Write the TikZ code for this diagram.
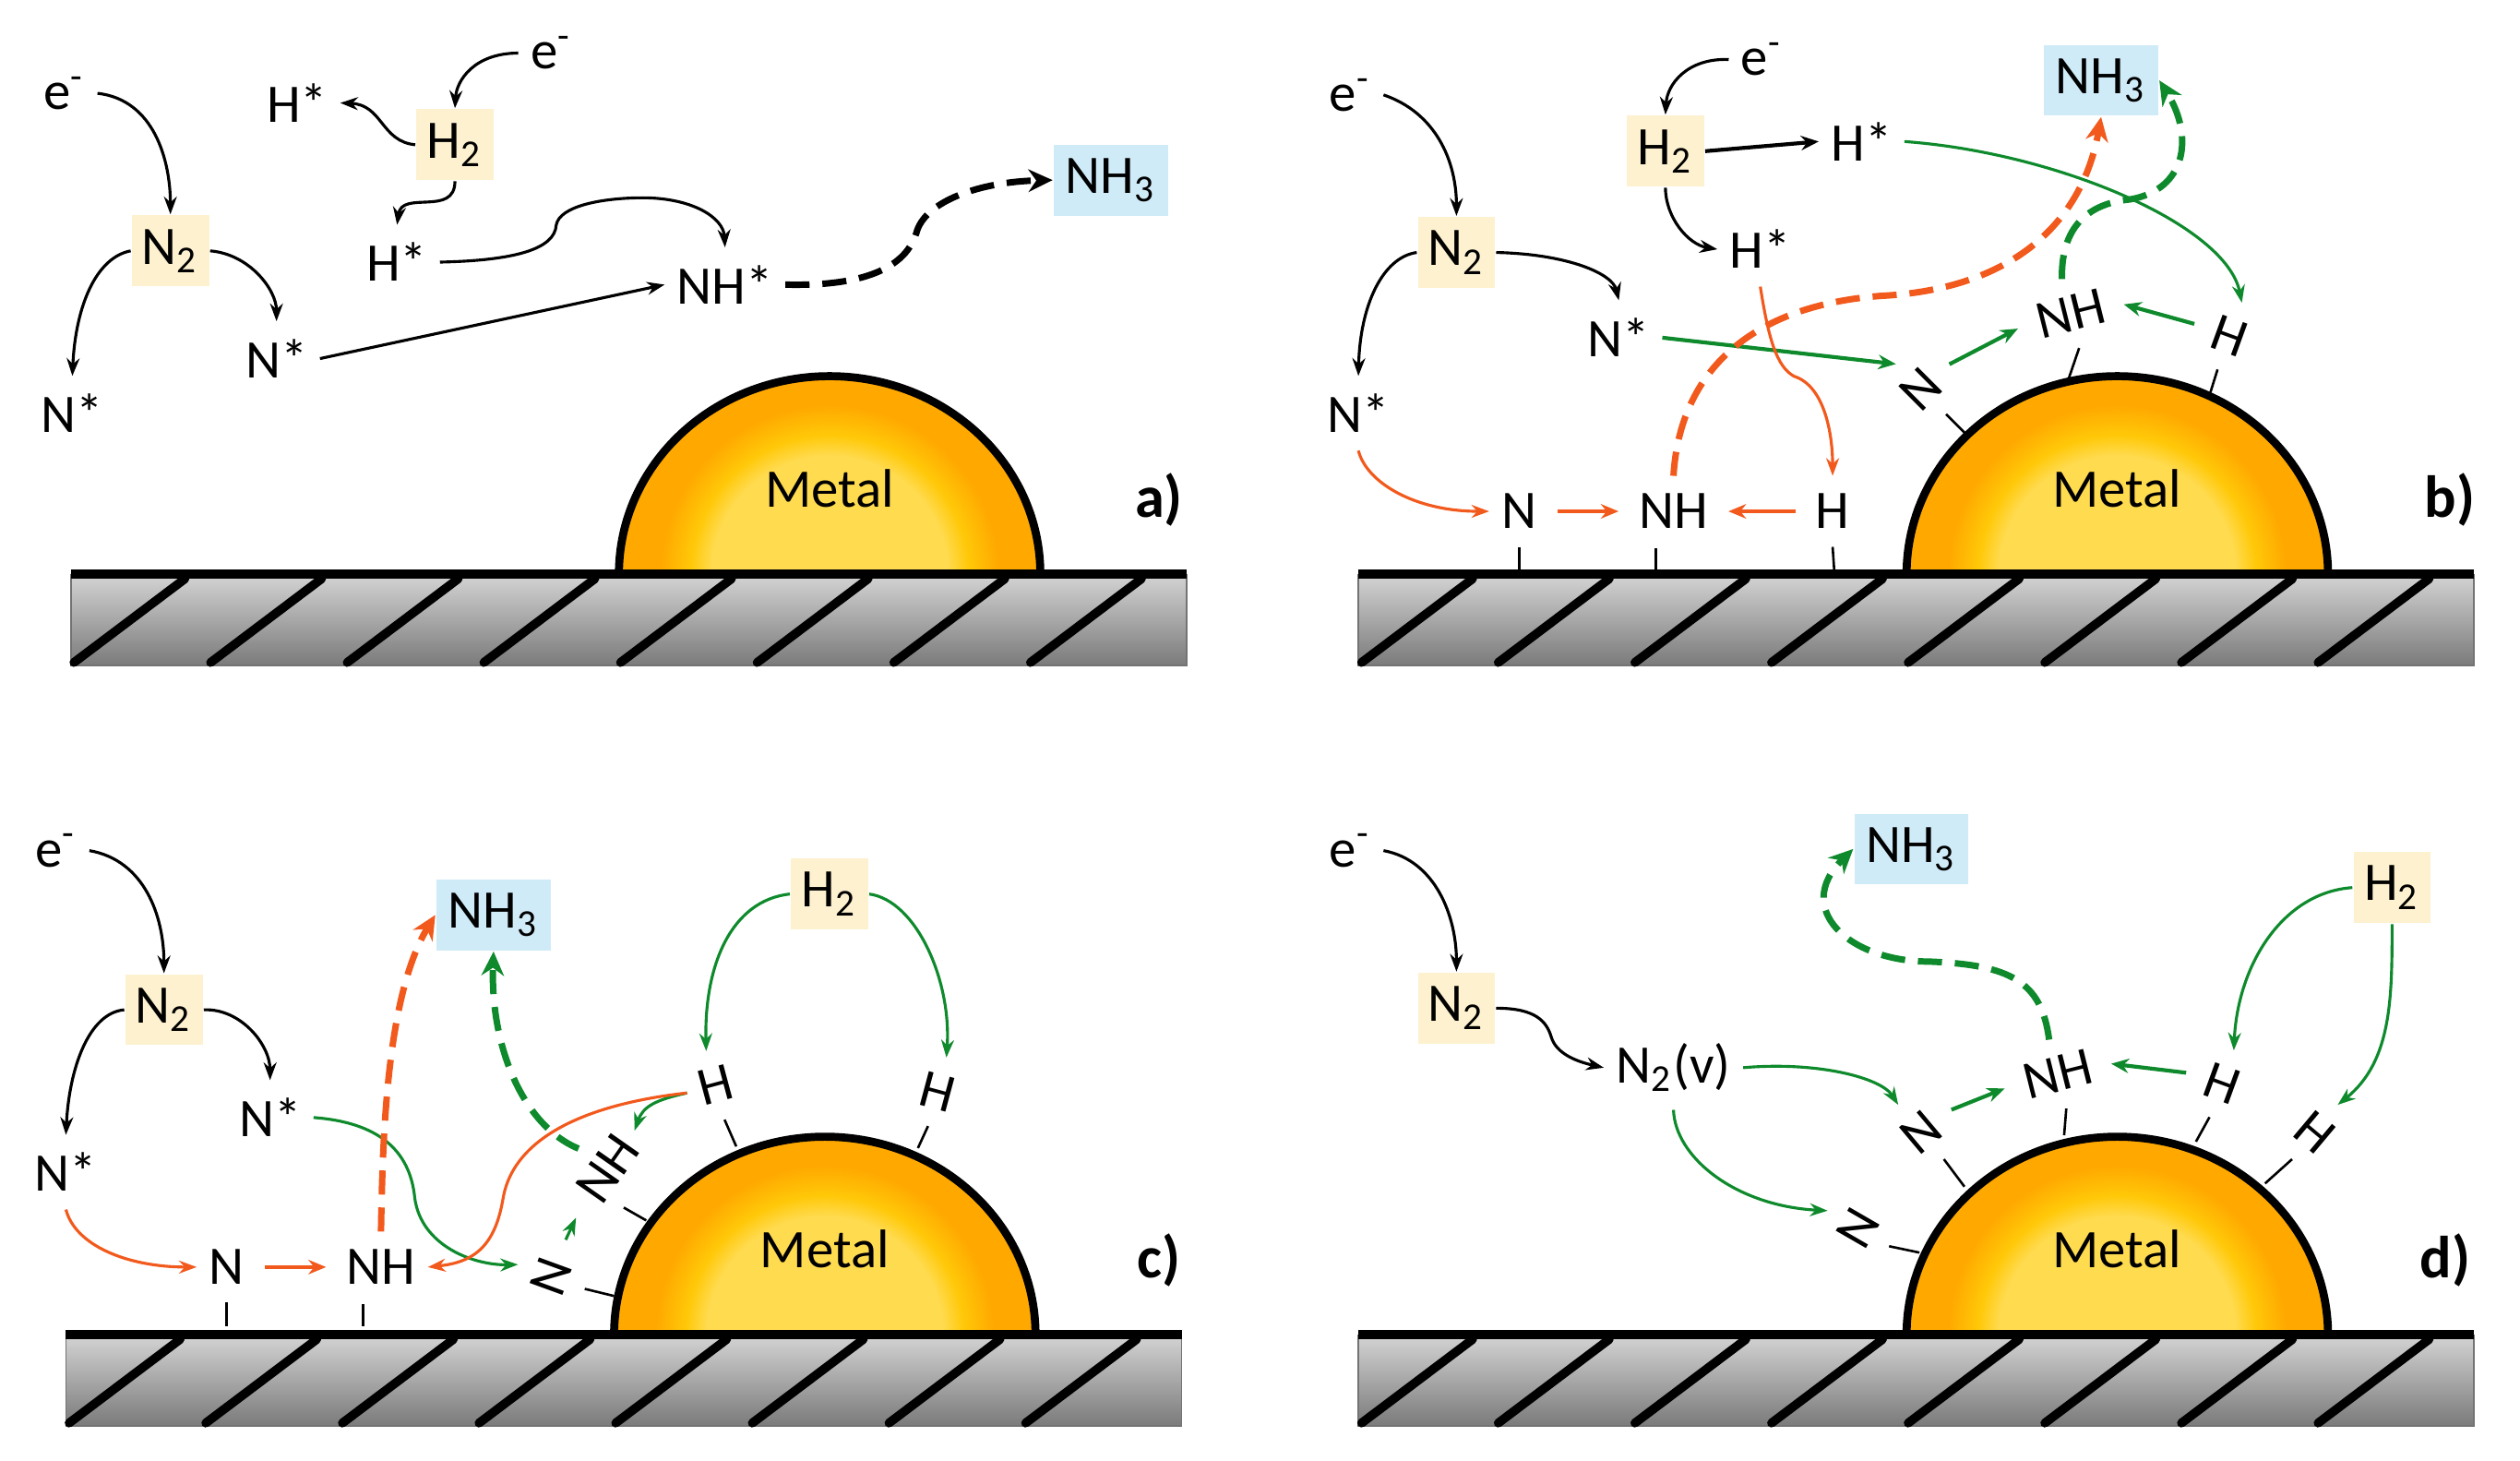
\documentclass[tikz,border=0pt]{standalone}
\usepackage{fontspec}
\setmainfont{Carlito}
\usetikzlibrary{arrows.meta}
\definecolor{gasfill}{HTML}{FDF1CF}
\definecolor{prodfill}{HTML}{D0EBF8}
\definecolor{orangeflow}{HTML}{F2591C}
\definecolor{greenflow}{HTML}{0E8A2C}
\definecolor{metalcore}{HTML}{FFDB50}
\definecolor{metalmid}{HTML}{FFC808}
\definecolor{metalrim}{HTML}{FFA900}
\pgfdeclareradialshading{metalglow}{\pgfpointorigin}{color(0bp)=(metalcore);color(14bp)=(metalcore);color(16.5bp)=(metalmid);color(20bp)=(metalrim);color(50bp)=(metalrim)}
\tikzset{
  txt/.style={inner xsep=2pt,inner ysep=3pt,font=\fontsize{9.6}{11}\selectfont},
  gas/.style={txt,inner sep=0pt,fill=gasfill,minimum width=0.48cm,minimum height=0.44cm},
  prod/.style={txt,inner sep=0pt,fill=prodfill,minimum width=0.71cm,minimum height=0.44cm},
  tag/.style={inner sep=0pt,font=\fontsize{10.5}{12}\selectfont\bfseries},
  bond/.style={line width=0.015cm},
  flow/.style={line width=0.018cm,-{Stealth[length=0.11cm,width=0.08cm]}},
  hop/.style={line width=0.024cm,-{Stealth[length=0.11cm,width=0.09cm]}},
  shorthop/.style={hop,shorten <=0.05cm,shorten >=0.05cm},
  flux/.style={line width=0.04cm,dash pattern=on 0.15cm off 0.08cm,-{Stealth[length=0.15cm,width=0.14cm]}}
}
% substrate with the metal particle: left end, top line, panel prefix
\newcommand{\support}[3]{
\begin{scope}[shift={(#1,#2)}]
\shade[top color=black!17,middle color=black!33,bottom color=black!52] (0,0) rectangle (694,57);
\draw[black!55,line width=0.01cm] (0,0)--(0,57)--(694,57)--(694,0);
\foreach \i in {0,...,7}
  \draw[line width=0.055cm,line cap=round] (2+85*\i,55)--(71+85*\i,3);
\begin{scope}
\clip (341,0) arc[start angle=180,end angle=0,x radius=1.31cm,y radius=1.23cm] -- cycle;
\shade[shading=metalglow] (472,0) circle[radius=1.31cm];
\end{scope}
\draw[line width=0.05cm] (341,0) arc[start angle=180,end angle=0,x radius=1.31cm,y radius=1.23cm];
\draw[line width=0.055cm] (0,0)--(694,0);
\node[txt] (#3M) at (472,-53) {Metal};
\end{scope}
}
\begin{document}
\begin{tikzpicture}[x=0.01cm,y=-0.01cm]
\useasboundingbox (0,0) rectangle (1567.6,908.1);

\support{44}{357}{a}
\support{845}{357}{b}
\support{41}{830}{c}
\support{845}{830}{d}

% a)
\node[tag] (aT) at (721,311) {a)};
\node[txt] (aE) at (40,58) {e\textsuperscript{-}};
\node[gas] (aN) at (106,156) {N\textsubscript{2}};
\node[txt] (aNl) at (45,257) {N*};
\node[txt] (aNr) at (172,223) {N*};
\node[txt] (aEh) at (343,33) {e\textsuperscript{-}};
\node[gas] (aH) at (283,90) {H\textsubscript{2}};
\node[txt] (aHu) at (185,64) {H*};
\node[txt] (aHd) at (247,163) {H*};
\node[txt] (aNH) at (451,177) {NH*};
\node[prod] (aP) at (691,112) {NH\textsubscript{3}};
\draw[flow] (aE.east) .. controls (96,62) and (106,100) .. (aN.north);
\draw[flow] (aN.west) .. controls (60,160) and (47,190) .. (aNl.north);
\draw[flow] (aN.east) .. controls (155,158) and (172,180) .. (aNr.north);
\draw[flow] (aEh.west) .. controls (295,33) and (284,50) .. (aH.north);
\draw[flow] (aH.west) .. controls (237,88) and (238,65) .. (aHu.east);
\draw[flow] (aH.south) .. controls (283,135) and (250,118) .. (aHd.north);
\draw[flow] (aHd.east) .. controls (320,162) and (345,155) .. (346,140) .. controls (348,128) and (375,123) .. (400,123) .. controls (430,123) and (450,135) .. (aNH.north);
\draw[flow] (aNr.east) -- (aNH.west);
\draw[flux] (aNH.east) .. controls (530,178) and (562,170) .. (570,145) .. controls (575,125) and (610,113) .. (aP.west);

% b)
\node[tag] (bT) at (1524,311) {b)};
\node[txt] (bE) at (840,59) {e\textsuperscript{-}};
\node[gas] (bN) at (906,157) {N\textsubscript{2}};
\node[txt] (bNl) at (845,257) {N*};
\node[txt] (bNr) at (1007,210) {N*};
\node[txt] (bEh) at (1096,37) {e\textsuperscript{-}};
\node[gas] (bH) at (1036,94) {H\textsubscript{2}};
\node[txt] (bHr) at (1158,88) {H*};
\node[txt] (bHd) at (1095,155) {H*};
\node[prod] (bP) at (1307,50) {NH\textsubscript{3}};
\node[txt] (bn) at (945,318) {N};
\node[txt] (bnh) at (1041,318) {NH};
\node[txt] (bh) at (1140,318) {H};
\node[txt,rotate=45] (bNm) at (1195,242) {N};
\node[txt,rotate=14] (bNHm) at (1288,195) {NH};
\node[txt,rotate=-20] (bHm) at (1387,209) {H};
\coordinate (bt2) at (1030,341);
\coordinate (bs1) at (945,355);
\coordinate (bs2) at (1030,355);
\coordinate (bs3) at (1141,355);
\coordinate (bs4) at (1222,269);
\coordinate (bs5) at (1287,235);
\coordinate (bs6) at (1375,244);
\draw[bond] (bn.south)--(bs1);
\draw[bond] (bt2)--(bs2);
\draw[bond] (bh.south)--(bs3);
\draw[bond] (bNm.south)--(bs4);
\draw[bond] (bNHm.south)--(bs5);
\draw[bond] (bHm.south)--(bs6);
\draw[flow] (bE.east) .. controls (893,70) and (906,100) .. (bN.north);
\draw[flow] (bN.west) .. controls (860,160) and (846,190) .. (bNl.north);
\draw[flow] (bN.east) .. controls (975,158) and (1003,170) .. (bNr.north);
\draw[flow] (bEh.west) .. controls (1050,36) and (1037,52) .. (bH.north);
\draw[hop] (bH.east) -- (bHr.west);
\draw[flow] (bH.south) .. controls (1036,135) and (1050,152) .. (bHd.west);
\draw[hop,greenflow] (bNr.east) -- (bNm.north);
\draw[shorthop,greenflow] (bNm.east) -- (bNHm.west);
\draw[shorthop,greenflow] (bHm.west) -- (bNHm.east);
\draw[flow,greenflow] (bHr.east) .. controls (1280,95) and (1385,140) .. (bHm.north);
\draw[flow,orangeflow] (bNl.south) .. controls (850,300) and (880,318) .. (bn.west);
\draw[shorthop,orangeflow] (bn.east) -- (bnh.west);
\draw[shorthop,orangeflow] (bh.west) -- (bnh.east);
\draw[flow,orangeflow] (bHd.south) .. controls (1100,210) and (1105,228) .. (1116,234) .. controls (1135,240) and (1140,270) .. (bh.north);
\draw[flux,orangeflow] (bnh.north) .. controls (1045,230) and (1090,190) .. (1170,184) .. controls (1250,180) and (1295,140) .. (bP.south);
\draw[flux,greenflow] (bNHm.north) .. controls (1282,145) and (1295,127) .. (1325,124) .. controls (1360,118) and (1365,85) .. (bP.east);

% c)
\node[tag] (cT) at (721,784) {c)};
\node[txt] (cE) at (35,529) {e\textsuperscript{-}};
\node[gas] (cN) at (102,628) {N\textsubscript{2}};
\node[txt] (cNl) at (41,729) {N*};
\node[txt] (cNr) at (168,695) {N*};
\node[prod] (cP) at (307,569) {NH\textsubscript{3}};
\node[gas] (cH) at (516,556) {H\textsubscript{2}};
\node[txt] (cn) at (141,788) {N};
\node[txt] (cnh) at (237,788) {NH};
\node[txt,rotate=70] (cNm) at (343,794) {N};
\node[txt,rotate=55] (cNHm) at (378,727) {NH};
\node[txt,rotate=15] (cHl) at (445,675) {H};
\node[txt,rotate=-15] (cHr) at (583,679) {H};
\coordinate (ct2) at (226,811);
\coordinate (ct4) at (388,751);
\coordinate (cs1) at (141,825);
\coordinate (cs2) at (226,825);
\coordinate (cs3) at (382,806);
\coordinate (cs4) at (402,759);
\coordinate (cs5) at (458,713);
\coordinate (cs6) at (571,714);
\draw[bond] (cn.south)--(cs1);
\draw[bond] (ct2)--(cs2);
\draw[bond] (cNm.south)--(cs3);
\draw[bond] (ct4)--(cs4);
\draw[bond] (cHl.south)--(cs5);
\draw[bond] (cHr.south)--(cs6);
\draw[flow] (cE.east) .. controls (90,535) and (102,570) .. (cN.north);
\draw[flow] (cN.west) .. controls (55,630) and (43,665) .. (cNl.north);
\draw[flow] (cN.east) .. controls (150,627) and (168,650) .. (cNr.north);
\draw[flow,orangeflow] (cNl.south) .. controls (47,775) and (80,788) .. (cn.west);
\draw[shorthop,orangeflow] (cn.east) -- (cnh.west);
\draw[flow,greenflow] (cNr.east) .. controls (235,698) and (255,715) .. (258,745) .. controls (262,775) and (295,787) .. (cNm.north);
\draw[flow,greenflow,shorten <=0.06cm,shorten >=0.07cm] (cNm.east) -- (cNHm.west);
\draw[flow,greenflow] (cHl.west) .. controls (408,684) and (400,688) .. (cNHm.east);
\draw[flow,orangeflow] (cHl.west) .. controls (370,686) and (320,705) .. (313,745) .. controls (308,775) and (295,785) .. (cnh.east);
\draw[flux,orangeflow] (cnh.north) .. controls (238,710) and (240,620) .. (cP.west);
\draw[flux,greenflow] (cNHm.north) .. controls (325,700) and (305,650) .. (cP.south);
\draw[flow,greenflow] (cH.west) .. controls (455,560) and (438,600) .. (cHl.north);
\draw[flow,greenflow] (cH.east) .. controls (570,560) and (592,610) .. (cHr.north);

% d)
\node[tag] (dT) at (1521,784) {d)};
\node[txt] (dE) at (840,529) {e\textsuperscript{-}};
\node[gas] (dN) at (906,627) {N\textsubscript{2}};
\node[txt] (dV) at (1041,664) {N\textsubscript{2}(v)};
\node[prod] (dP) at (1189,528) {NH\textsubscript{3}};
\node[gas] (dH) at (1488,552) {H\textsubscript{2}};
\node[txt,rotate=40] (dNu) at (1195,704) {N};
\node[txt,rotate=60] (dNd) at (1156,764) {N};
\node[txt,rotate=14] (dNHm) at (1280,668) {NH};
\node[txt,rotate=-20] (dHl) at (1382,674) {H};
\node[txt,rotate=-40] (dHr) at (1440,704) {H};
\coordinate (ds1) at (1222,738);
\coordinate (ds2) at (1194,779);
\coordinate (ds3) at (1284,706);
\coordinate (ds4) at (1366,710);
\coordinate (ds5) at (1409,736);
\draw[bond] (dNu.south)--(ds1);
\draw[bond] (dNd.south)--(ds2);
\draw[bond] (dNHm.south)--(ds3);
\draw[bond] (dHl.south)--(ds4);
\draw[bond] (dHr.south)--(ds5);
\draw[flow] (dE.east) .. controls (893,535) and (906,570) .. (dN.north);
\draw[flow] (dN.east) .. controls (955,627) and (962,635) .. (965,645) .. controls (968,655) and (980,660) .. (dV.west);
\draw[flow,greenflow] (dV.east) .. controls (1130,660) and (1170,670) .. (dNu.north);
\draw[flow,greenflow] (dV.south) .. controls (1042,720) and (1080,750) .. (dNd.north);
\draw[shorthop,greenflow] (dNu.east) -- (dNHm.west);
\draw[shorthop,greenflow] (dHl.west) -- (dNHm.east);
\draw[flow,greenflow] (dH.west) .. controls (1420,555) and (1392,600) .. (dHl.north);
\draw[flow,greenflow] (dH.south) .. controls (1488,620) and (1488,660) .. (dHr.north);
\draw[flux,greenflow] (dNHm.north) .. controls (1270,610) and (1250,600) .. (1200,598) .. controls (1150,598) and (1115,565) .. (dP.west);
\end{tikzpicture}
\end{document}
